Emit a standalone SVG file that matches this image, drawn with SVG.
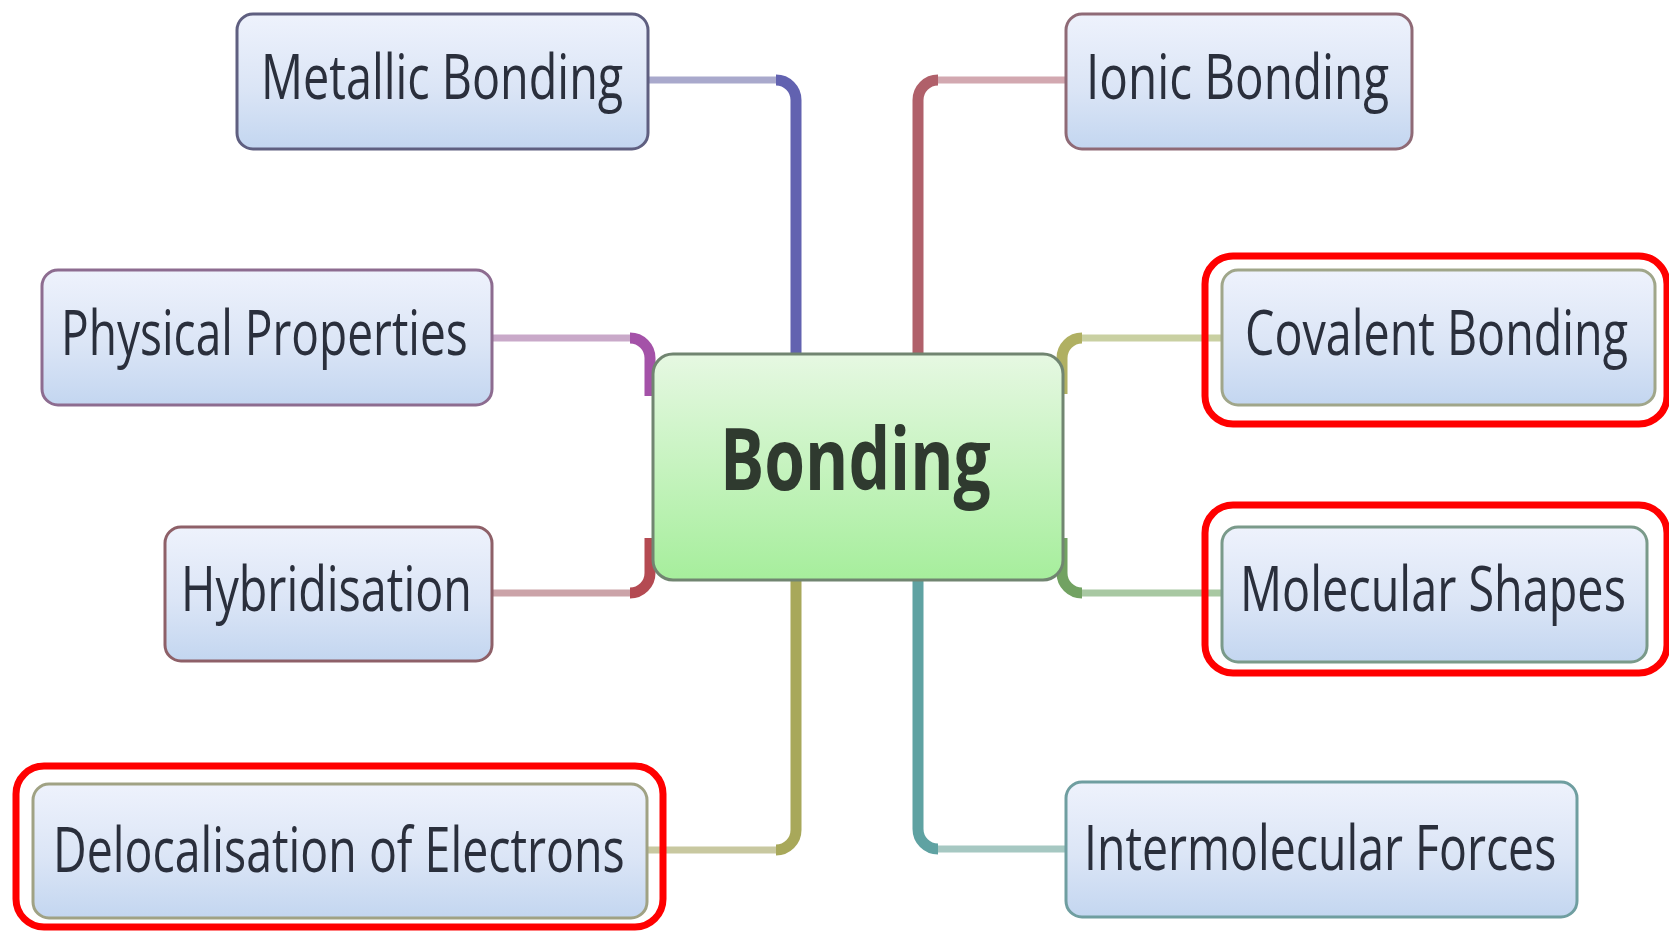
<svg xmlns="http://www.w3.org/2000/svg" width="1669" height="931" viewBox="0 0 1669 931">
<defs>
  <linearGradient id="nodeFill" x1="0" y1="0" x2="0" y2="1">
    <stop offset="0" stop-color="#eef2fc"/>
    <stop offset="0.55" stop-color="#dbe5f6"/>
    <stop offset="1" stop-color="#c3d6f0"/>
  </linearGradient>
  <linearGradient id="centerFill" x1="0" y1="0" x2="0" y2="1">
    <stop offset="0" stop-color="#e6f8e2"/>
    <stop offset="1" stop-color="#a6ee9c"/>
  </linearGradient>
  <style>
    .node rect.box { fill: url(#nodeFill); stroke-width: 3; }
    .label { font-family: "Open Sans", "Liberation Sans", sans-serif; font-size: 62px; fill: #2a2f3c; text-anchor: start; }
    .center-label { font-family: "Open Sans", "Liberation Sans", sans-serif; font-weight: bold; font-size: 86px; fill: #2f3a2f; }
    .hl { fill: none; stroke: #ff0000; stroke-width: 7; }
    .thin { fill: none; stroke-width: 7; stroke-linecap: butt; }
    .thick { fill: none; stroke-width: 11; stroke-linecap: butt; }
  </style>
</defs>
<rect x="0" y="0" width="1669" height="931" fill="#ffffff"/>

<g id="connectors">
  <path class="thin" stroke="#a9a9cc" d="M648,80 H778"/>
  <path class="thick" stroke="#6262b0" d="M776,80 A20,20 0 0 1 796,100 V356"/>
  <path class="thin" stroke="#d2a8b0" d="M1066,80 H936"/>
  <path class="thick" stroke="#b0606a" d="M938,80 A20,20 0 0 0 918,100 V356"/>
  <path class="thin" stroke="#c9a9c9" d="M492,338 H632"/>
  <path class="thick" stroke="#a452a8" d="M630,338 A20,20 0 0 1 650,358 V396"/>
  <path class="thin" stroke="#cba3a8" d="M492,593 H632"/>
  <path class="thick" stroke="#b44a52" d="M650,538 V573 A20,20 0 0 1 630,593"/>
  <path class="thin" stroke="#c8c8a0" d="M647,850 H778"/>
  <path class="thick" stroke="#a8a85a" d="M796,578 V830 A20,20 0 0 1 776,850"/>
  <path class="thin" stroke="#a6c8c2" d="M1066,849 H936"/>
  <path class="thick" stroke="#5fa2a2" d="M918,578 V829 A20,20 0 0 0 938,849"/>
  <path class="thin" stroke="#c9d0a2" d="M1222,338 H1080"/>
  <path class="thick" stroke="#b0b062" d="M1062,394 V358 A20,20 0 0 1 1082,338"/>
  <path class="thin" stroke="#a8c8a2" d="M1222,593 H1080"/>
  <path class="thick" stroke="#72a262" d="M1062,538 V573 A20,20 0 0 0 1082,593"/>
</g>

<g id="node-bonding">
  <rect x="653" y="354" width="410" height="226" rx="20" fill="url(#centerFill)" stroke="#718571" stroke-width="3"/>
  <text class="center-label" transform="translate(720,490) scale(0.72,1)" x="0" y="0" textLength="376" lengthAdjust="spacingAndGlyphs">Bonding</text>
</g>

<g id="node-metallic" class="node">
  <rect class="box" x="237" y="14" width="411" height="135" rx="16" stroke="#5f5f80"/>
  <text class="label" transform="translate(261,99) scale(0.72,1)" x="0" y="0" textLength="503" lengthAdjust="spacingAndGlyphs">Metallic Bonding</text>
</g>

<g id="node-ionic" class="node">
  <rect class="box" x="1066" y="14" width="346" height="135" rx="16" stroke="#8f6a76"/>
  <text class="label" transform="translate(1086,99) scale(0.72,1)" x="0" y="0" textLength="421" lengthAdjust="spacingAndGlyphs">Ionic Bonding</text>
</g>

<g id="node-physical" class="node">
  <rect class="box" x="42" y="270" width="450" height="135" rx="16" stroke="#8d6c90"/>
  <text class="label" transform="translate(61,355) scale(0.72,1)" x="0" y="0" textLength="565" lengthAdjust="spacingAndGlyphs">Physical Properties</text>
</g>

<g id="node-covalent" class="node">
  <rect class="box" x="1222" y="270" width="433" height="135" rx="16" stroke="#a0a68a"/>
  <text class="label" transform="translate(1245,355) scale(0.72,1)" x="0" y="0" textLength="532" lengthAdjust="spacingAndGlyphs">Covalent Bonding</text>
</g>

<g id="node-hybridisation" class="node">
  <rect class="box" x="165" y="527" width="327" height="134" rx="16" stroke="#8e6068"/>
  <text class="label" transform="translate(181,611) scale(0.72,1)" x="0" y="0" textLength="404" lengthAdjust="spacingAndGlyphs">Hybridisation</text>
</g>

<g id="node-molecular" class="node">
  <rect class="box" x="1222" y="527" width="425" height="135" rx="16" stroke="#7a9a8a"/>
  <text class="label" transform="translate(1240,611) scale(0.72,1)" x="0" y="0" textLength="536" lengthAdjust="spacingAndGlyphs">Molecular Shapes</text>
</g>

<g id="node-delocalisation" class="node">
  <rect class="box" x="33" y="784" width="614" height="134" rx="16" stroke="#a0a284"/>
  <text class="label" transform="translate(53,872) scale(0.72,1)" x="0" y="0" textLength="794" lengthAdjust="spacingAndGlyphs">Delocalisation of Electrons</text>
</g>

<g id="node-intermolecular" class="node">
  <rect class="box" x="1066" y="782" width="511" height="135" rx="16" stroke="#6f9ea0"/>
  <text class="label" transform="translate(1084,870) scale(0.72,1)" x="0" y="0" textLength="656" lengthAdjust="spacingAndGlyphs">Intermolecular Forces</text>
</g>

<g id="highlights">
  <rect class="hl" x="1205" y="256" width="462" height="168" rx="28"/>
  <rect class="hl" x="1205" y="505" width="462" height="168" rx="28"/>
  <rect class="hl" x="16" y="766" width="647" height="161" rx="28"/>
</g>
</svg>
